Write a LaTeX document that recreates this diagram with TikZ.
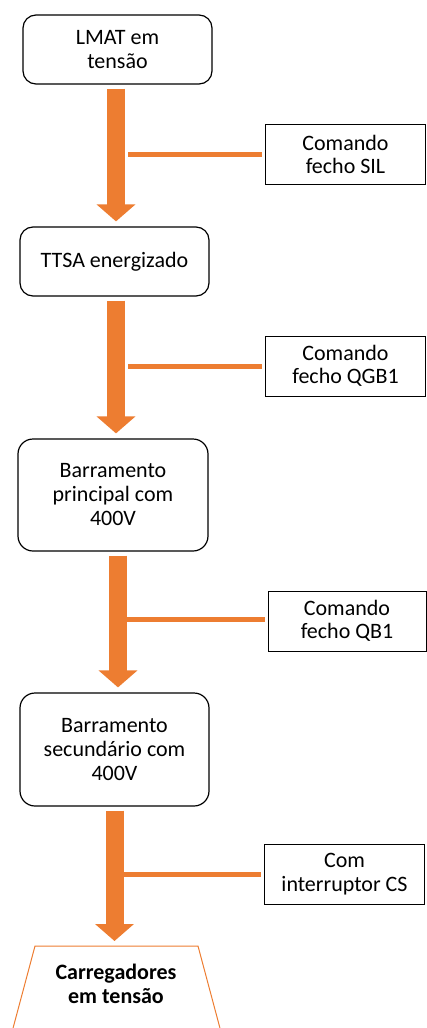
\documentclass[tikz,border=0pt]{standalone}
\usepackage{fontspec}
\setmainfont{Carlito}
\usetikzlibrary{arrows.meta}
\definecolor{flowOrange}{HTML}{ED7D31}

\begin{document}
\begin{tikzpicture}[x=1pt,y=-1pt,line width=1pt,
    stage/.style={draw=black,line width=1.2pt,rounded corners=13pt,align=center,
      inner sep=0pt,font=\fontsize{22}{24}\selectfont},
    cmd/.style={draw=black,line width=1pt,align=center,
      inner sep=0pt,minimum width=160pt,minimum height=60pt,font=\fontsize{22}{23.5}\selectfont},
    flow/.style={draw=flowOrange,line width=18pt,-{Triangle[length=17pt,width=38pt]},
      shorten <=4pt,shorten >=5pt},
    feed/.style={draw=flowOrange,line width=5pt,shorten <=3pt,shorten >=10.5pt}]

        \useasboundingbox (0,0) rectangle (427,1028);

        % ------------------------------------------------ main chain
        \node[stage,minimum width=189pt,minimum height=69pt]  (lmat)   at (117.5,49.5) {LMAT em\\tensão};
        \node[stage,minimum width=189pt,minimum height=69pt]  (ttsa)   at (114.5,261.5) {TTSA energizado};
        \node[stage,minimum width=190pt,minimum height=112pt,rounded corners=15pt] (princ)  at (113,495)
            {Barramento\\principal com\\400V};
        \node[stage,minimum width=189pt,minimum height=113pt,rounded corners=15pt] (secund) at (114.5,749.5)
            {Barramento\\secundário com\\400V};

        % end block: open trapezium cut by the page edge
        \draw[flowOrange,line width=1pt] (12,1032) -- (35,946) -- (198,946) -- (221,1032);
        \coordinate (carrtop) at (116,946);
        \node[align=center,font=\fontsize{22}{24}\selectfont\bfseries] (carr) at (116,984)
            {Carregadores\\em tensão};

        % ------------------------------------------------ commands
        \node[cmd] (sil) at (345.5,154.5) {Comando\\fecho SIL};
        \node[cmd] (qgb) at (345.5,366)   {Comando\\fecho QGB1};
        \node[cmd,minimum width=158pt] (qb) at (347,621) {Comando\\fecho QB1};
        \node[cmd] (cs)  at (344.5,874)   {Com\\interruptor CS};

        % ------------------------------------------------ arrows
        \draw[flow] ([xshift=-1.5pt]lmat.south) -- ([xshift=-1.5pt]lmat.south |- ttsa.north);
        \draw[flow] ([xshift=1.5pt]ttsa.south)  -- ([xshift=1.5pt]ttsa.south |- princ.north);
        \draw[flow] ([xshift=5pt]princ.south)   -- ([xshift=5pt]princ.south |- secund.north);
        \draw[flow] (secund.south) -- (secund.south |- carrtop);

        \draw[feed] (sil.west) -- (sil.west -| lmat.south);
        \draw[feed] (qgb.west) -- (qgb.west -| lmat.south);
        \draw[feed] ([yshift=2pt]qb.west) -- ([xshift=2pt,yshift=2pt]qb.west -| princ.south);
        \draw[feed] (cs.west)  -- ([xshift=-3pt]cs.west -| secund.south);

\end{tikzpicture}
\end{document}
